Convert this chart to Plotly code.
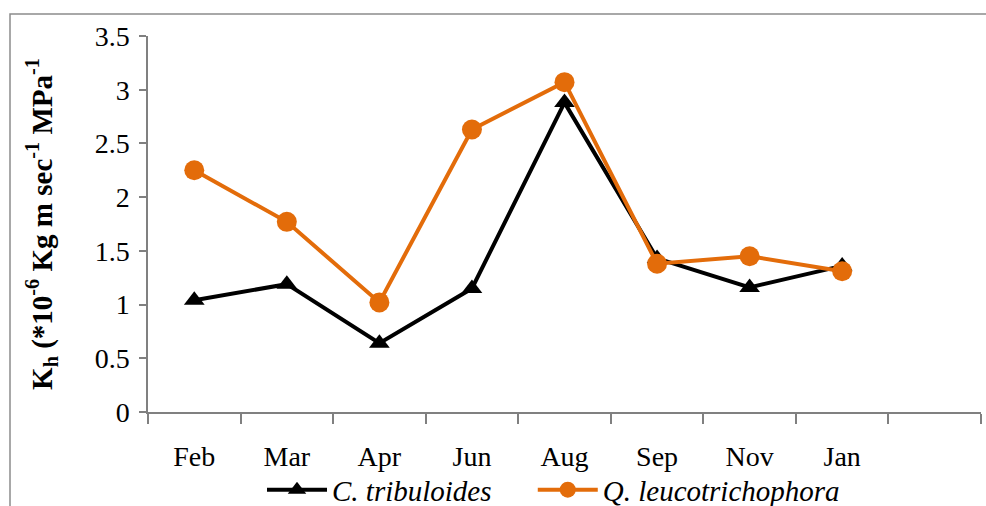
import plotly.graph_objects as go

months = ["Feb", "Mar", "Apr", "Jun", "Aug", "Sep", "Nov", "Jan"]
extra_slot = [" "]
c_tribuloides = [1.04, 1.19, 0.64, 1.15, 2.88, 1.43, 1.16, 1.36]
q_leuco = [2.25, 1.77, 1.02, 2.63, 3.07, 1.38, 1.45, 1.31]
y_ticks = [0, 0.5, 1, 1.5, 2, 2.5, 3, 3.5]
y_ticktext = ["0", "0.5", "1", "1.5", "2", "2.5", "3", "3.5"]

font_family = "Liberation Serif"
orange = "#E36C0A"

fig = go.Figure()
fig.add_trace(go.Scatter(
    x=months, y=c_tribuloides, mode="lines+markers",
    name="<i>C. tribuloides</i>" + "&nbsp;" * 5,
    line=dict(color="black", width=4),
    marker=dict(symbol="triangle-up", size=18, color="black"),
))
fig.add_trace(go.Scatter(
    x=months, y=q_leuco, mode="lines+markers",
    name="<i>Q. leucotrichophora</i>",
    line=dict(color=orange, width=4),
    marker=dict(symbol="circle", size=20, color=orange),
))

fig.update_layout(
    width=986, height=506,
    margin=dict(l=148, r=5, t=36, b=94, autoexpand=False),
    paper_bgcolor="white", plot_bgcolor="white",
    font=dict(family=font_family, size=28, color="black"),
    showlegend=True,
    legend=dict(orientation="h", x=(262 - 148) / 833, xanchor="left", y=-0.207, yanchor="middle",
                font=dict(size=29, family=font_family), itemwidth=60,
                bgcolor="rgba(0,0,0,0)", tracegroupgap=0),
    xaxis=dict(
        type="category", categoryorder="array", categoryarray=months + extra_slot,
        range=[-0.5, 8.5], showline=True, linecolor="#808080", linewidth=1.5,
        ticks="outside", tickson="boundaries", ticklen=10, tickcolor="#808080",
        tickwidth=1.5, showgrid=False, zeroline=False, ticklabelstandoff=19,
        tickfont=dict(size=28), automargin=False,
    ),
    yaxis=dict(
        range=[0, 3.5], tickvals=y_ticks, ticktext=y_ticktext,
        showline=True, linecolor="#808080", linewidth=1.5,
        ticks="outside", ticklen=7, tickcolor="#808080", tickwidth=1.5,
        showgrid=False, zeroline=False, tickfont=dict(size=28),
        ticklabelstandoff=4, automargin=False,
        title=dict(
            text="<b>K<sub>h</sub> (*10<sup>-6</sup> Kg m sec<sup>-1</sup> MPa<sup>-1</sup></b>",
            font=dict(size=29, family=font_family), standoff=34,
        ),
    ),
    shapes=[dict(type="rect", xref="paper", yref="paper",
                 x0=-138/833, x1=1.05, y0=-0.35, y1=1 + 22/376,
                 line=dict(color="#8c8c8c", width=1.5), fillcolor="rgba(0,0,0,0)",
                 layer="below")],
)

fig.write_html("out.html", config={"displayModeBar": False},
               post_script="document.body.style.margin='0';document.body.style.overflow='hidden';")
